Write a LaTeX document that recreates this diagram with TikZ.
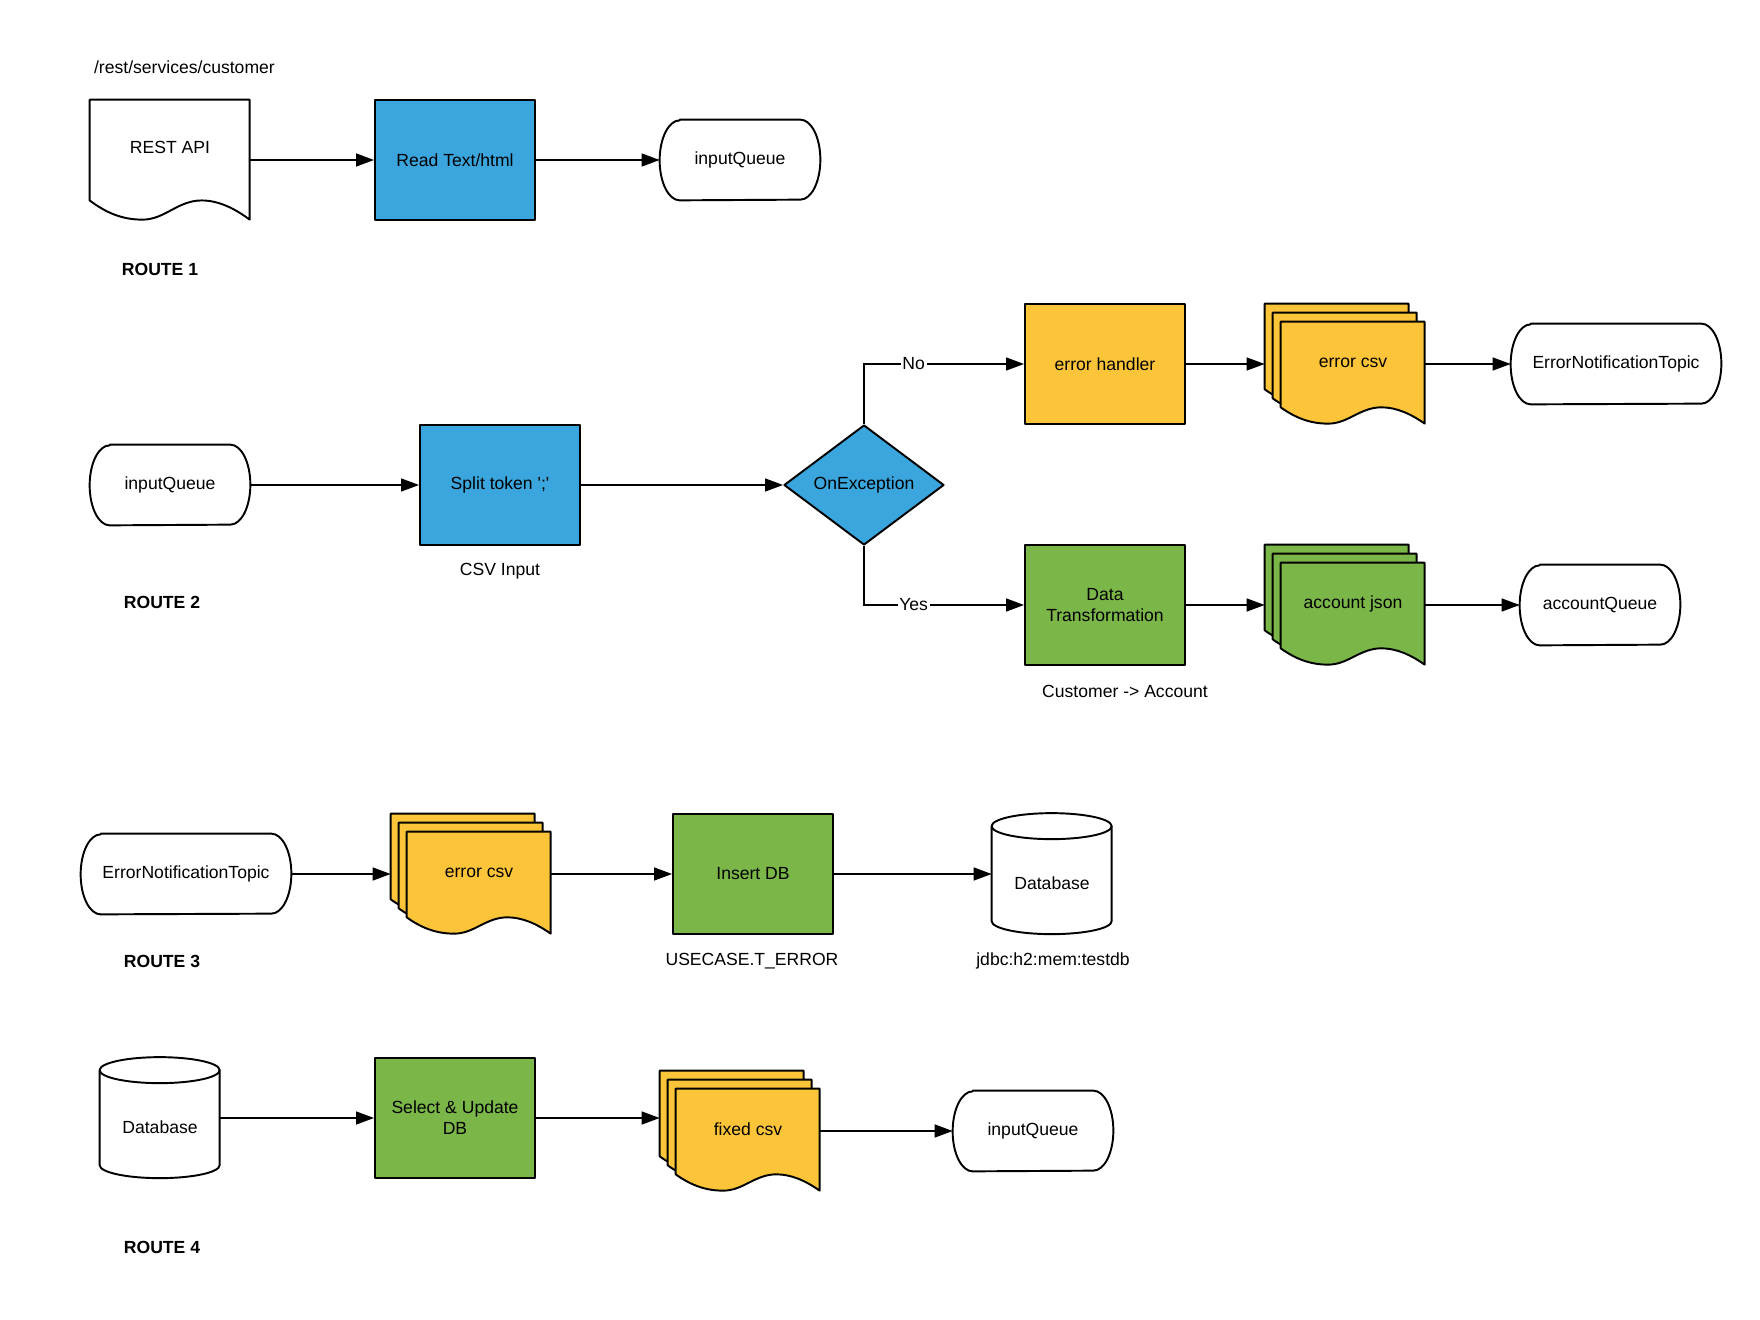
\documentclass[tikz,border=0pt]{standalone}
\usepackage{fontspec}
\setmainfont{Liberation Sans}
\usetikzlibrary{arrows.meta,shapes.geometric,calc,backgrounds}

\definecolor{lucidblue}{RGB}{58,166,221}
\definecolor{lucidyellow}{RGB}{252,196,57}
\definecolor{lucidgreen}{RGB}{122,182,72}

% one page with a wavy bottom: corner, width, height, fill
\newcommand{\docpage}[4]{%
  \draw[outline,fill=#4,shift={#1},x=#2,y=#3]
    (0,0) -- (1,0) -- (1,-1) .. controls (0.9,-0.9) and (0.8,-0.84) .. (0.7,-0.84)
    .. controls (0.55,-0.84) and (0.47,-1) .. (0.33,-1)
    .. controls (0.2,-1) and (0.1,-0.94) .. (0,-0.84) -- cycle;}
% three pages behind one another
\newcommand{\docstack}[2]{%
  \docpage{(#1.north west)}{28.8mm}{20.4mm}{#2}
  \docpage{($(#1.north west)+(8,-9)$)}{28.8mm}{20.4mm}{#2}
  \docpage{($(#1.north west)+(16,-18)$)}{28.8mm}{20.4mm}{#2}}
% database drum
\newcommand{\dbcan}[1]{%
  \draw[outline,fill=white,shift={(#1.north west)}]
    (0,-13) -- (0,-108) arc[start angle=180,end angle=360,x radius=60,y radius=13]
    -- (120,-13) arc[start angle=0,end angle=180,x radius=60,y radius=13] -- cycle;
  \draw[outline,shift={(#1.north west)}]
    (0,-13) arc[start angle=180,end angle=360,x radius=60,y radius=13];}
% queue / topic terminator
\newcommand{\termshape}[1]{%
  \draw[outline,fill=white]
    ($(#1.north west)+(20,0)$) -- ($(#1.north east)+(-20,0)$)
    arc[start angle=90,end angle=-90,x radius=20,y radius=40]
    -- ($(#1.south west)+(20,0)$)
    arc[start angle=270,end angle=90,x radius=20,y radius=40] -- cycle;}

\begin{document}
\begin{tikzpicture}[x=0.2mm,y=0.2mm,
    every node/.style={font=\fontsize{10}{12}\selectfont},
    outline/.style={draw,line width=1.1pt,line join=round},
    process/.style={outline,rectangle,minimum width=32mm,minimum height=24mm,inner sep=2pt,align=center},
    decision/.style={outline,diamond,fill=lucidblue,minimum width=32mm,minimum height=24mm,inner sep=0pt},
    docnode/.style={rectangle,minimum width=32mm,minimum height=24mm,inner sep=0pt},
    dbnode/.style={rectangle,minimum width=24mm,minimum height=24.2mm,inner sep=0pt},
    queue/.style={rectangle,minimum width=32mm,minimum height=16mm,inner sep=0pt},
    widequeue/.style={queue,minimum width=42mm},
    caption/.style={inner sep=1pt},
    routetag/.style={font=\fontsize{10}{12}\selectfont\bfseries},
    branch/.style={fill=white,inner sep=1pt},
    flow/.style={line width=0.8pt,-{Triangle[length=3.6mm,width=2.6mm]}}]
  \useasboundingbox (0,0) rectangle (1760,-1320);

  % ROUTE 1
  \node[caption,anchor=west] (resturl) at (92,-67) {/rest/services/customer};
  \node[docnode,label={[yshift=2.6mm]center:REST API}] (restapi) at (170,-160) {};
  \node[process,fill=lucidblue] (readhtml) at (455,-160) {Read Text/html};
  \node[queue] (inq1) at (740,-160) {inputQueue};
  \node[routetag] (route1) at (160,-269) {ROUTE 1};
  \draw[flow] (restapi.east) -- (readhtml.west);
  \draw[flow] (readhtml.east) -- (inq1.west);

  % ROUTE 2
  \node[queue] (inq2) at (170,-485) {inputQueue};
  \node[process,fill=lucidblue] (split) at (500,-485) {Split token \textquotesingle;\textquotesingle};
  \node[caption] (csvinput) at (500,-571) {CSV Input};
  \node[decision] (onexc) at (864,-485) {OnException};
  \node[process,fill=lucidyellow] (errhandler) at (1105,-364) {error handler};
  \node[docnode,label={[xshift=1.6mm,yshift=0.3mm]center:error csv}] (errcsv) at (1345,-364) {};
  \node[widequeue] (errtopic) at (1616,-364) {ErrorNotificationTopic};
  \node[process,fill=lucidgreen] (datatrans) at (1105,-605) {Data\\Transformation};
  \node[caption] (custacc) at (1125,-691) {Customer -> Account};
  \node[docnode,label={[xshift=1.6mm,yshift=0.3mm]center:account json}] (accjson) at (1345,-605) {};
  \node[queue] (accqueue) at (1600,-605) {accountQueue};
  \node[routetag] (route2) at (162,-602) {ROUTE 2};
  \draw[flow] (inq2.east) -- (split.west);
  \draw[flow] (split.east) -- (onexc.west);
  \draw[flow] (onexc.north) |- node[branch,pos=0.655] {No} (errhandler.west);
  \draw[flow] (onexc.south) |- node[branch,pos=0.655] {Yes} (datatrans.west);
  \draw[flow] (errhandler.east) -- (errcsv.west);
  \draw[flow] (errcsv.east) -- (errtopic.west);
  \draw[flow] (datatrans.east) -- (accjson.west);
  \draw[flow] (accjson.east) -- (accqueue.west);

  % ROUTE 3
  \node[widequeue] (errtopic3) at (186,-874) {ErrorNotificationTopic};
  \node[docnode,label={[xshift=1.6mm,yshift=0.3mm]center:error csv}] (errcsv3) at (471,-874) {};
  \node[process,fill=lucidgreen] (insertdb) at (753,-874) {Insert DB};
  \node[caption] (usecase) at (752,-961) {USECASE.T\_ERROR};
  \node[dbnode,label={[yshift=-1.8mm]center:Database}] (db3) at (1052,-874) {};
  \node[caption] (jdbc) at (1053,-961) {jdbc:h2:mem:testdb};
  \node[routetag] (route3) at (162,-961) {ROUTE 3};
  \draw[flow] (errtopic3.east) -- (errcsv3.west);
  \draw[flow] (errcsv3.east) -- (insertdb.west);
  \draw[flow] (insertdb.east) -- (db3.west);

  % ROUTE 4
  \node[dbnode,label={[yshift=-1.9mm]center:Database}] (db4) at (160,-1118) {};
  \node[process,fill=lucidgreen] (selupdate) at (455,-1118) {Select \& Update\\DB};
  \node[docnode,label={[xshift=1.6mm,yshift=0.3mm]center:fixed csv}] (fixedcsv) at (740,-1131) {};
  \node[queue] (inq4) at (1033,-1131) {inputQueue};
  \node[routetag] (route4) at (162,-1247) {ROUTE 4};
  \draw[flow] (db4.east) -- (selupdate.west);
  \draw[flow] (selupdate.east) -- (selupdate.east -| fixedcsv.west);
  \draw[flow] (fixedcsv.east) -- (inq4.west);

  \begin{scope}[on background layer]
    \docpage{(restapi.north west)}{32mm}{24mm}{white}
    \termshape{inq1}
    \termshape{inq2}
    \docstack{errcsv}{lucidyellow}
    \termshape{errtopic}
    \docstack{accjson}{lucidgreen}
    \termshape{accqueue}
    \termshape{errtopic3}
    \docstack{errcsv3}{lucidyellow}
    \dbcan{db3}
    \dbcan{db4}
    \docstack{fixedcsv}{lucidyellow}
    \termshape{inq4}
  \end{scope}
\end{tikzpicture}
\end{document}
